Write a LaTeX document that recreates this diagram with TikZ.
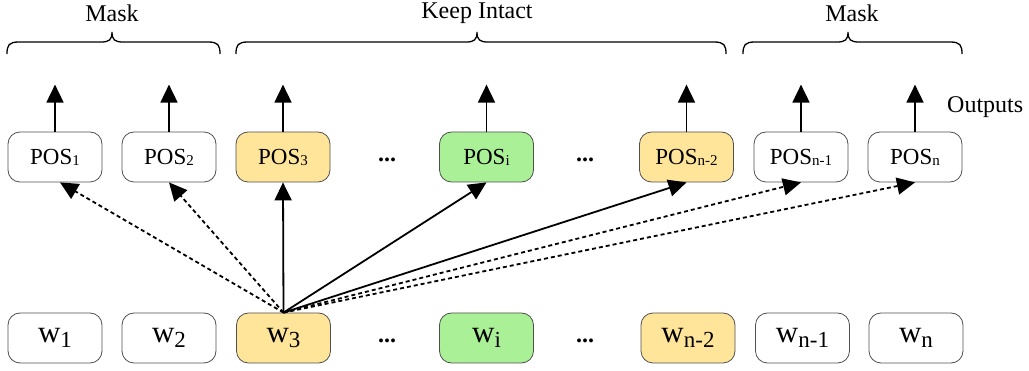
\documentclass[tikz,border=0pt]{standalone}
\usepackage{fontspec}
\setmainfont{Liberation Serif}
\usetikzlibrary{arrows.meta}
\definecolor{boxyellow}{RGB}{255,229,153}
\definecolor{boxgreen}{RGB}{170,240,150}
\definecolor{boxline}{RGB}{80,80,80}
\newcommand{\posx}[1]{\fontsize{23}{26}\selectfont POS\raisebox{-1pt}{\fontsize{15}{16}\selectfont #1}}
\newcommand{\wx}[1]{{\fontsize{31}{32}\selectfont w}\raisebox{-5pt}{\fontsize{23}{24}\selectfont #1}}
\tikzset{
  tok/.style={draw=boxline, line width=0.8pt, rounded corners=12pt, minimum width=94pt, minimum height=50pt, inner sep=0pt, fill=white},
  yel/.style={fill=boxyellow},
  grn/.style={fill=boxgreen},
  arr/.style={line width=1.8pt, -{Triangle[length=18pt,width=17pt]}},
  darr/.style={arr, dash pattern=on 4pt off 3pt},
  brc/.style={line width=1.3pt},
  lbl/.style={font=\fontsize{24}{26}\selectfont, inner sep=0pt},
  dots/.style={font=\fontsize{24}{24}\selectfont\bfseries, inner sep=0pt}
}
\begin{document}
\begin{tikzpicture}[x=1pt,y=-1pt]
\useasboundingbox (0,0) rectangle (1029,371);
% top row
\node[tok] (P1) at (55,157) {\posx{1}};
\node[tok] (P2) at (169,157) {\posx{2}};
\node[tok,yel] (P3) at (283,157) {\posx{3}};
\node[tok,grn] (Pi) at (486.5,157) {\posx{i}};
\node[tok,yel] (Pn2) at (686.5,157) {\posx{n-2}};
\node[tok] (Pn1) at (801,157) {\posx{n-1}};
\node[tok] (Pn) at (915,157) {\posx{n}};
\node[dots] (d1) at (387,160) {...};
\node[dots] (d2) at (585,160) {...};
% bottom row
\node[tok] (W1) at (55,338) {\wx{1}};
\node[tok] (W2) at (169,338) {\wx{2}};
\node[tok,yel] (W3) at (283.5,338) {\wx{3}};
\node[tok,grn] (Wi) at (486.5,338) {\wx{i}};
\node[tok,yel] (Wn2) at (688,338) {\wx{n-2}};
\node[tok] (Wn1) at (802.5,338) {\wx{n-1}};
\node[tok] (Wn) at (916,338) {\wx{n}};
\node[dots] (d3) at (387,341) {...};
\node[dots] (d4) at (585,341) {...};
% output arrows
\foreach \n in {P1,P2,P3,Pi,Pn2,Pn1,Pn} {
  \coordinate (o\n) at ([yshift=47pt]\n.north);
  \draw[arr] (\n.north) -- (o\n);
}
\node[lbl, anchor=west] (out) at (947,107) {Outputs};
% connectors
\draw[darr] (W3.north) -- ([xshift=5pt]P1.south);
\draw[darr] (W3.north) -- (P2.south);
\draw[arr] (W3.north) -- (P3.south);
\draw[arr] (W3.north) -- (Pi.south);
\draw[arr] (W3.north) -- (Pn2.south);
\draw[darr] (W3.north) -- (Pn1.south);
\draw[darr] (W3.north) -- (Pn.south);
% braces
\foreach \a/\m/\b in {7/112/220, 236/477/726, 743/848/962} {
  \draw[brc] (\a,54) .. controls (\a,45) and (\a+2,42) .. (\a+12,42) -- (\m-11,42)
     .. controls (\m-3,42) and (\m,40) .. (\m,32)
     .. controls (\m,40) and (\m+3,42) .. (\m+11,42) -- (\b-12,42)
     .. controls (\b-2,42) and (\b,45) .. (\b,54);
}
\node[lbl] (m1) at (112,13) {Mask};
\node[lbl] (ki) at (477,13) {Keep Intact};
\node[lbl] (m2) at (852,13) {Mask};
\end{tikzpicture}
\end{document}
